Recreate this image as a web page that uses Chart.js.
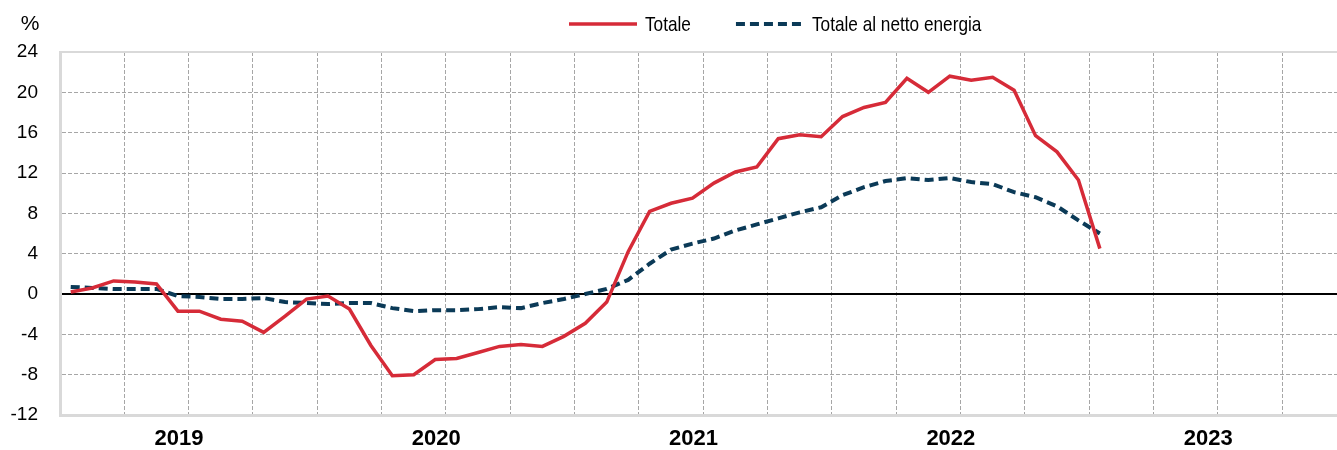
<!DOCTYPE html>
<html>
<head>
<meta charset="utf-8">
<script src="https://cdn.jsdelivr.net/npm/chart.js@4.4.0/dist/chart.umd.min.js"></script>
<style>
  html, body { margin: 0; padding: 0; background: #fff; overflow: hidden; }
</style>
</head>
<body>
<canvas id="chart" width="1337" height="450"></canvas>
<script>
// monthly data, Jan 2019 -> Jan 2023
const years = ["2019", "2020", "2021", "2022", "2023"];
const totale = [0.2, 0.6, 1.3, 1.2, 1.0, -1.7, -1.7, -2.5, -2.7, -3.8, -2.2, -0.5,
  -0.2, -1.5, -5.1, -8.1, -8.0, -6.5, -6.4, -5.8, -5.2, -5.0, -5.2, -4.2,
  -2.9, -0.8, 4.2, 8.2, 9.0, 9.5, 11.0, 12.1, 12.6, 15.4, 15.8, 15.6,
  17.6, 18.5, 19.0, 21.4, 20.0, 21.6, 21.2, 21.5, 20.2, 15.7, 14.1, 11.3,
  4.5];
const nettoEnergia = [0.7, 0.6, 0.5, 0.5, 0.5, -0.2, -0.3, -0.5, -0.5, -0.4, -0.8, -0.9,
  -1.0, -0.9, -0.9, -1.4, -1.7, -1.6, -1.6, -1.5, -1.3, -1.4, -0.9, -0.5,
  0.0, 0.5, 1.4, 3.0, 4.4, 5.0, 5.5, 6.3, 6.9, 7.5, 8.1, 8.6,
  9.8, 10.6, 11.2, 11.5, 11.3, 11.5, 11.1, 10.9, 10.1, 9.6, 8.7, 7.3,
  6.0];
const seriesNames = ["Totale", "Totale al netto energia"];

const FONT = '"Liberation Sans", Arial, sans-serif';
Chart.defaults.font.family = FONT;
Chart.defaults.color = "#000";

// points sit in the middle of each month
const toPoints = arr => arr.map((v, i) => ({ x: i + 0.5, y: v }));

// quarter gridlines; year labels sit a bit left of mid-year, as in the original
const LABEL_POS = 5.55;
const isQuarter = v => Math.abs(v - Math.round(v)) < 1e-6 && Math.round(v) % 3 === 0;
const xTicks = [];
for (let m = 0; m < 60; m += 3) xTicks.push(m);
years.forEach((y, i) => xTicks.push(i * 12 + LABEL_POS));
xTicks.sort((a, b) => a - b);

// legend drawn by hand (narrow look, placed off-centre like the original)
const extras = {
  id: "extras",
  afterDraw(chart) {
    const ctx = chart.ctx;
    ctx.save();
    ctx.fillStyle = "#000";
    ctx.textBaseline = "middle";
    ctx.font = "21px " + FONT;
    ctx.textAlign = "center";
    ctx.fillText("%", 30, 24);

    ctx.textAlign = "left";
    let x = 569;
    chart.data.datasets.forEach(ds => {
      ctx.save();
      ctx.strokeStyle = ds.borderColor;
      ctx.lineWidth = ds.borderWidth;
      ctx.setLineDash(ds.borderDash || []);
      ctx.beginPath();
      ctx.moveTo(x, 24);
      ctx.lineTo(x + 68, 24);
      ctx.stroke();
      ctx.restore();
      const tx = x + 76;
      ctx.save();
      ctx.translate(tx, 24);
      ctx.scale(0.82, 1);
      ctx.fillText(ds.label, 0, 1);
      const w = ctx.measureText(ds.label).width * 0.82;
      ctx.restore();
      x = tx + w + 45;
    });
    ctx.restore();
  }
};

new Chart(document.getElementById("chart"), {
  type: "line",
  data: {
    datasets: [{
      label: seriesNames[0],
      data: toPoints(totale),
      borderColor: "#d62b38",
      borderWidth: 3.5,
      pointRadius: 0,
      tension: 0,
      fill: false
    }, {
      label: seriesNames[1],
      data: toPoints(nettoEnergia),
      borderColor: "#0b3a57",
      borderWidth: 4,
      borderDash: [9, 5],
      pointRadius: 0,
      tension: 0,
      fill: false
    }]
  },
  options: {
    responsive: false,
    animation: false,
    devicePixelRatio: 1,
    layout: { padding: { top: 52, left: 0, right: 0, bottom: 0 } },
    plugins: {
      tooltip: { enabled: false },
      legend: { display: false }
    },
    scales: {
      x: {
        type: "linear",
        min: 0,
        max: 59.56,
        afterFit: s => { s.height = 35; },
        afterBuildTicks: s => { s.ticks = xTicks.map(v => ({ value: v })); },
        ticks: {
          autoSkip: false,
          maxRotation: 0,
          padding: 11,
          font: { size: 22, weight: "bold" },
          callback: v => (isQuarter(v) ? "" : years[Math.round((v - LABEL_POS) / 12)])
        },
        grid: {
          drawTicks: false,
          color: c => (c.tick && !isQuarter(c.tick.value) ? "rgba(0,0,0,0)" : "#a6a6a6"),
          lineWidth: 1
        },
        border: { display: true, color: "#d9d9d9", width: 3, dash: [4, 2] }
      },
      y: {
        min: -12,
        max: 24,
        afterFit: s => { s.width = 60; },
        ticks: { stepSize: 4, padding: 22, font: { size: 19 } },
        grid: {
          drawTicks: false,
          color: c => (c.tick && c.tick.value === 0 ? "#000" : c.tick && c.tick.value === 24 ? "#d9d9d9" : "#a6a6a6"),
          lineWidth: c => (c.tick && (c.tick.value === 0 || c.tick.value === 24) ? 2 : 1)
        },
        border: {
          display: true,
          color: "#d9d9d9",
          width: 3,
          dash: c => (c.tick && (c.tick.value === 0 || c.tick.value === 24) ? [] : [4, 2])
        }
      }
    }
  },
  plugins: [extras]
});
</script>
</body>
</html>
